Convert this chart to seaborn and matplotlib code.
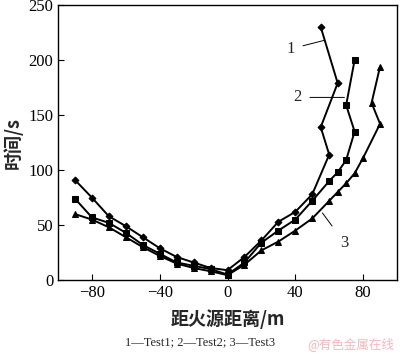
import pandas as pd
import seaborn as sns
import matplotlib.pyplot as plt

# distance from fire source (m) and time (s) for the three tests
x1 = [-90, -80, -70, -60, -50, -40, -30, -20, -10, 0, 10, 20, 30, 40, 50, 60, 55, 65, 55]
y1 = [91, 75, 58, 49, 39, 29, 21, 16, 11, 9, 21, 36, 53, 62, 78, 114, 139, 179, 230]

x2 = [-90, -80, -70, -60, -50, -40, -30, -20, -10, 0, 10, 20, 30, 40, 50, 60, 65, 70, 75, 70, 75]
y2 = [74, 57, 52, 43, 32, 24, 16, 13, 10, 5, 16, 34, 45, 55, 72, 90, 98, 109, 135, 159, 200]

x3 = [-90, -80, -70, -60, -50, -40, -30, -20, -10, 0, 10, 20, 30, 40, 50, 60, 65, 70, 75, 80, 90, 85, 90]
y3 = [60, 55, 48, 39, 30, 22, 15, 11, 8, 4.5, 14, 27, 35, 45, 56, 72, 80, 88, 97, 111, 142, 161, 194]

tests = ['Test1', 'Test2', 'Test3']
xticks = [-80, -40, 0, 40, 80]
yticks = [0, 50, 100, 150, 200, 250]

data = pd.concat([
    pd.DataFrame({'dist': x1, 'time': y1, 'test': tests[0]}),
    pd.DataFrame({'dist': x2, 'time': y2, 'test': tests[1]}),
    pd.DataFrame({'dist': x3, 'time': y3, 'test': tests[2]}),
])

sns.set_style("ticks")
plt.rcParams['font.family'] = ['Liberation Serif', 'Noto Sans CJK SC', 'DejaVu Sans']

fig = plt.figure(figsize=(4, 3.55), dpi=100)
ax = fig.add_axes([0.145, 0.211, 0.8475, 0.775])

sns.lineplot(data=data, x='dist', y='time', hue='test', style='test', sort=False,
             estimator=None, palette=['black'] * 3, markers=['D', 's', '^'], dashes=False,
             markeredgecolor='black', linewidth=1.4, legend=False, ax=ax)
for line, ms in zip(ax.lines, [3.5, 5, 5]):
    line.set_markersize(ms)

ax.set_xlim(-100, 100)
ax.set_ylim(0, 250)
ax.set_xticks(xticks)
ax.set_xticklabels(['\u221280', '\u221240', '0', '40', '80'])
ax.set_yticks(yticks)
ax.tick_params(direction='in', length=4, width=0.8, labelsize=12, colors='black')
for s in ax.spines.values():
    s.set_linewidth(1.0)
    s.set_color('black')

ax.set_xlabel('距火源距离/m', fontsize=13, family=['Noto Sans CJK SC', 'DejaVu Sans'],
              fontweight='bold', labelpad=6)
ax.set_ylabel('时间/s', fontsize=13, family=['Noto Sans CJK SC', 'DejaVu Sans'],
              fontweight='bold', labelpad=4)

# curve labels with leader lines
ax.annotate('1', xy=(57.5, 218), xytext=(37, 210), fontsize=12, va='center', ha='center',
            arrowprops=dict(arrowstyle='-', lw=0.7, color='black', shrinkA=4, shrinkB=0))
ax.annotate('2', xy=(69, 166), xytext=(41, 166), fontsize=12, va='center', ha='center',
            arrowprops=dict(arrowstyle='-', lw=0.7, color='black', shrinkA=4, shrinkB=0))
ax.annotate('3', xy=(56, 61), xytext=(69, 34), fontsize=12, va='center', ha='center',
            arrowprops=dict(arrowstyle='-', lw=0.7, color='black', shrinkA=6, shrinkB=0))

fig.text(0.5, 0.035, '1\u2014Test1; 2\u2014Test2; 3\u2014Test3', ha='center', va='center',
         fontsize=9)
fig.text(0.985, 0.03, '@有色金属在线', ha='right', va='center', fontsize=9,
         color='#f2b8bf', family=['Noto Sans CJK SC', 'DejaVu Sans'])

plt.savefig('out.png', dpi=100)
